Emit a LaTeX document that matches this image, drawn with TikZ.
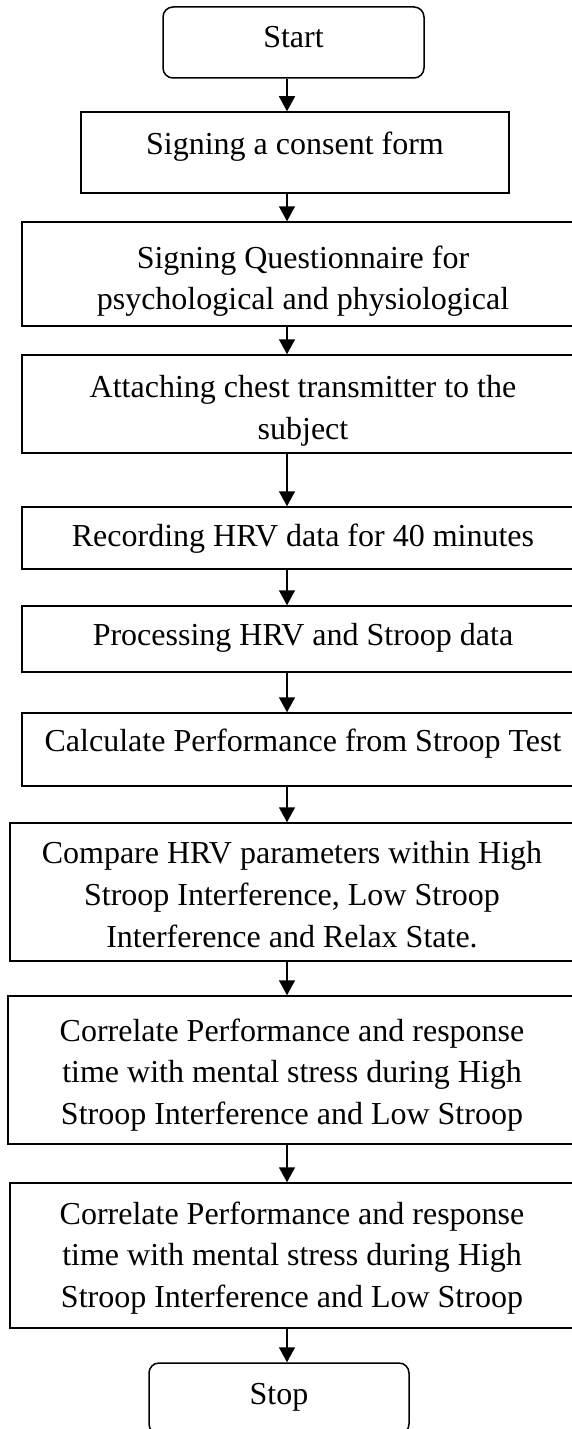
\documentclass[tikz,border=0pt]{standalone}
\usepackage{fontspec}
\setmainfont{Liberation Serif}
\usetikzlibrary{arrows.meta}

\begin{document}
\begin{tikzpicture}[x=0.5pt,y=-0.5pt,
	stepbox/.style={draw,line width=0.75pt,inner sep=0pt},
	endbox/.style={stepbox,rounded corners=5pt},
	steptext/.style={anchor=north,inner sep=0pt,align=center,font=\fontsize{16}{20.85}\selectfont},
	flow/.style={line width=0.8pt,->},
	>={Triangle[width=8pt,length=7.5pt]}]
	\useasboundingbox (0,0) rectangle (572,1429);
	\clip (0,0) rectangle (572,1429);
	\coordinate (axis) at (287,0);
	\node[endbox,minimum width=130.5pt,minimum height=35.5pt] (start) at (293.5,42.5) {};
	\node[stepbox,minimum width=214pt,minimum height=40.5pt] (consent) at (295,152.5) {};
	\node[stepbox,minimum width=281pt,minimum height=52pt] (quest) at (303,274) {};
	\node[stepbox,minimum width=281pt,minimum height=49pt] (attach) at (303,404) {};
	\node[stepbox,minimum width=281pt,minimum height=31pt] (record) at (303,538) {};
	\node[stepbox,minimum width=281pt,minimum height=33pt] (process) at (303,639) {};
	\node[stepbox,minimum width=281pt,minimum height=36.5pt] (calc) at (303,749.5) {};
	\node[stepbox,minimum width=282pt,minimum height=69pt] (compare) at (292,892) {};
	\node[stepbox,minimum width=284pt,minimum height=74pt] (corrA) at (292,1070) {};
	\node[stepbox,minimum width=282pt,minimum height=72.5pt] (corrB) at (292,1255.5) {};
	\node[endbox,minimum width=130pt,minimum height=35.5pt] (stop) at (279,1398.5) {};
	\node[steptext] (start-t) at ([yshift=-10pt]start.north) {Start};
	\node[steptext] (consent-t) at ([yshift=-10pt]consent.north) {Signing a consent form};
	\node[steptext] (quest-t) at ([yshift=-12pt]quest.north) {Signing Questionnaire for\\psychological and physiological};
	\node[steptext] (attach-t) at ([yshift=-10.5pt]attach.north) {Attaching chest transmitter to the\\subject};
	\node[steptext] (record-t) at ([yshift=-8.5pt]record.north) {Recording HRV data for 40 minutes};
	\node[steptext] (process-t) at ([yshift=-9pt]process.north) {Processing HRV and Stroop data};
	\node[steptext] (calc-t) at ([yshift=-8pt]calc.north) {Calculate Performance from Stroop Test};
	\node[steptext] (compare-t) at ([yshift=-9.5pt]compare.north) {Compare HRV parameters within High\\Stroop Interference, Low Stroop\\Interference and Relax State.};
	\node[steptext] (corrA-t) at ([yshift=-11.5pt]corrA.north) {Correlate Performance and response\\time with mental stress during High\\Stroop Interference and Low Stroop};
	\node[steptext] (corrB-t) at ([yshift=-9.5pt]corrB.north) {Correlate Performance and response\\time with mental stress during High\\Stroop Interference and Low Stroop};
	\node[steptext] (stop-t) at ([yshift=-10.5pt]stop.north) {Stop};
	\draw[flow] (start.south -| axis) -- (consent.north -| axis);
	\draw[flow] (consent.south -| axis) -- (quest.north -| axis);
	\draw[flow] (quest.south -| axis) -- (attach.north -| axis);
	\draw[flow] (attach.south -| axis) -- (record.north -| axis);
	\draw[flow] (record.south -| axis) -- (process.north -| axis);
	\draw[flow] (process.south -| axis) -- (calc.north -| axis);
	\draw[flow] (calc.south -| axis) -- (compare.north -| axis);
	\draw[flow] (compare.south -| axis) -- (corrA.north -| axis);
	\draw[flow] (corrA.south -| axis) -- (corrB.north -| axis);
	\draw[flow] (corrB.south -| axis) -- (stop.north -| axis);
\end{tikzpicture}
\end{document}
